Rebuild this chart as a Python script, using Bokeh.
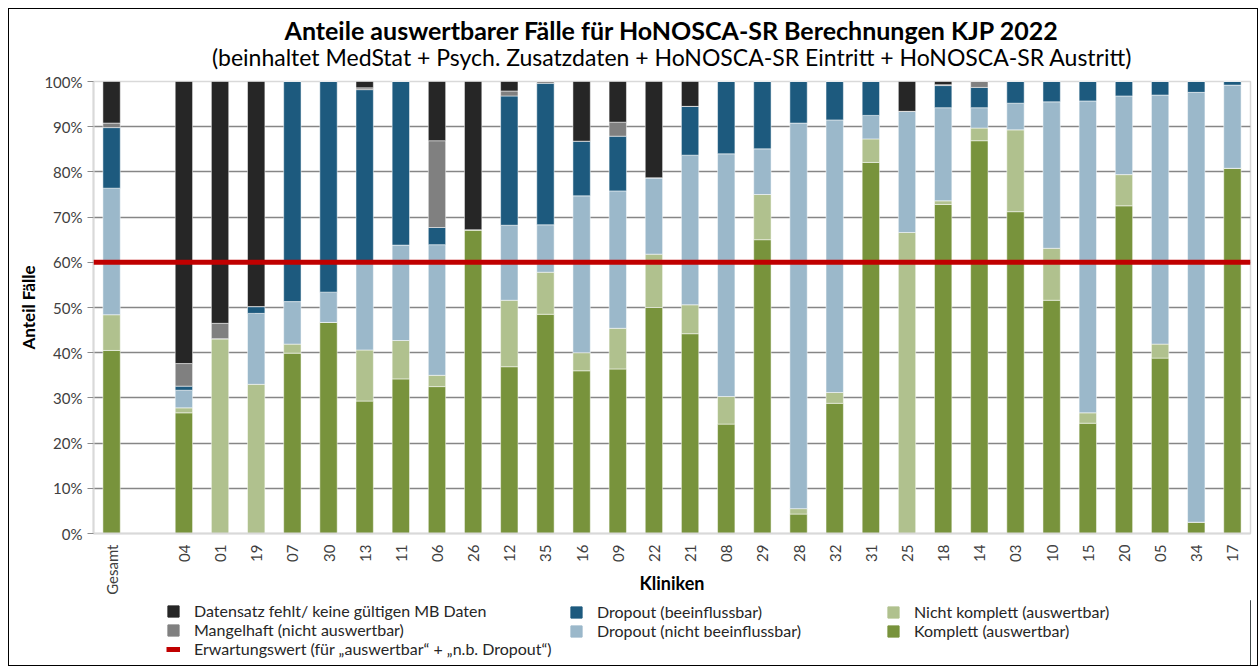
from bokeh.plotting import figure
from bokeh.layouts import column
from bokeh.models import (FactorRange, Range1d, Span, Title, Legend, LegendItem,
                          FixedTicker, PrintfTickFormatter, ColumnDataSource)
from bokeh.embed import file_html
from bokeh.resources import INLINE
import math

kliniken = ["Gesamt", "04", "01", "19", "07", "30", "13", "11", "06", "26", "12", "35",
            "16", "09", "22", "21", "08", "29", "28", "32", "31", "25", "18", "14", "03",
            "10", "15", "20", "05", "34", "17"]
achsen_kategorien = ["Gesamt", " "] + kliniken[1:]

komplett = [40.5, 26.7, 0, 0, 39.9, 46.7, 29.3, 34.2, 32.5, 67.2, 36.9, 48.5, 36.0, 36.4,
            50.0, 44.2, 24.2, 65.0, 4.3, 28.8, 82.1, 0, 72.8, 86.9, 71.2, 51.6, 24.4, 72.5,
            38.8, 2.5, 80.8]
nicht_komplett = [7.9, 1.1, 43.1, 33.0, 2.0, 0, 11.3, 8.5, 2.5, 0, 14.7, 9.3, 4.0, 9.0,
                  11.8, 6.4, 6.1, 10.0, 1.2, 2.4, 5.2, 66.6, 0.8, 2.8, 18.1, 11.5, 2.3, 6.9,
                  3.1, 0, 0]
dropout_nb = [28.0, 3.9, 0, 15.7, 9.4, 6.7, 19.4, 21.1, 28.9, 0, 16.6, 10.5, 34.7, 30.4,
              16.9, 33.1, 53.7, 10.1, 85.3, 60.3, 5.2, 26.8, 20.6, 4.5, 5.9, 32.4, 69.0,
              17.4, 55.1, 95.1, 18.4]
dropout_b = [13.4, 0.9, 0, 1.5, 48.7, 46.6, 38.2, 36.2, 3.8, 0, 28.6, 31.3, 12.1, 12.1, 0,
             10.8, 16.0, 14.9, 9.2, 8.5, 7.5, 0, 4.9, 4.5, 4.8, 4.5, 4.3, 3.2, 3.0, 2.4, 0.8]
mangelhaft = [1.0, 5.0, 3.4, 0, 0, 0, 0.4, 0, 19.2, 0, 1.1, 0.4, 0, 3.1, 0, 0, 0, 0, 0, 0, 0,
              0, 0.2, 1.3, 0, 0, 0, 0, 0, 0, 0]
fehlt = [9.2, 62.4, 53.5, 49.8, 0, 0, 1.4, 0, 13.1, 32.8, 2.1, 0, 13.2, 9.0, 21.3, 5.5, 0, 0,
         0, 0, 0, 6.6, 0.7, 0, 0, 0, 0, 0, 0, 0, 0]
erwartungswert = 60
y_ticks = list(range(0, 101, 10))

serien = ["komplett", "nicht_komplett", "dropout_nb", "dropout_b", "mangelhaft", "fehlt"]
farben = ["#78933C", "#B0C18E", "#9BB8CA", "#1D5A7E", "#808080", "#262626"]
labels = {
    "fehlt": "Datensatz fehlt/ keine gültigen MB Daten",
    "mangelhaft": "Mangelhaft (nicht auswertbar)",
    "dropout_b": "Dropout (beeinflussbar)",
    "dropout_nb": "Dropout (nicht beeinflussbar)",
    "nicht_komplett": "Nicht komplett (auswertbar)",
    "komplett": "Komplett (auswertbar)",
}
label_erwartung = "Erwartungswert (für „auswertbar“ + „n.b. Dropout“)"
farbe_erwartung = "#C00000"

source = ColumnDataSource(dict(kliniken=kliniken, komplett=komplett,
                               nicht_komplett=nicht_komplett, dropout_nb=dropout_nb,
                               dropout_b=dropout_b, mangelhaft=mangelhaft, fehlt=fehlt))

FONT = "Lato"
W = 1248

p = figure(x_range=FactorRange(factors=achsen_kategorien, range_padding=0.0),
           y_range=Range1d(0, 100),
           width=W, height=591, output_backend="svg", toolbar_location=None,
           min_border_left=84, min_border_right=7, min_border_top=72, min_border_bottom=67)

p.vbar_stack(serien, x="kliniken", width=0.48, color=farben, source=source,
             line_color="white", line_width=0.5)

span = Span(location=erwartungswert, dimension="width", line_color=farbe_erwartung,
            line_width=5)
p.add_layout(span)

# axes
p.yaxis.ticker = FixedTicker(ticks=y_ticks)
p.yaxis.formatter = PrintfTickFormatter(format="%d%%")
p.yaxis.axis_line_color = "#D9D9D9"
p.yaxis.axis_line_width = 2
p.yaxis.major_tick_line_color = "#8C8C8C"
p.yaxis.major_tick_out = 6
p.yaxis.major_tick_in = 0
p.yaxis.minor_tick_line_color = None
p.yaxis.major_label_standoff = 5
p.yaxis.major_label_text_font = FONT
p.yaxis.major_label_text_font_size = "15px"
p.yaxis.major_label_text_color = "#404040"
p.yaxis.axis_label = "Anteil Fälle"
p.yaxis.axis_label_text_font = FONT
p.yaxis.axis_label_text_font_style = "bold"
p.yaxis.axis_label_text_font_size = "17px"
p.yaxis.axis_label_text_color = "black"
p.yaxis.axis_label_standoff = 2

p.xaxis.major_label_orientation = math.pi / 2
p.xaxis.axis_line_color = "#D9D9D9"
p.xaxis.axis_line_width = 2
p.xaxis.major_tick_line_color = None
p.xaxis.minor_tick_line_color = None
p.xaxis.major_label_text_font = FONT
p.xaxis.major_label_text_font_size = "15px"
p.xaxis.major_label_text_color = "#404040"
p.xaxis.axis_label = "Kliniken"
p.xaxis.axis_label_text_font = FONT
p.xaxis.axis_label_text_font_style = "bold"
p.xaxis.axis_label_text_font_size = "18px"
p.xaxis.axis_label_text_color = "black"
p.xaxis.axis_label_standoff = -26

p.xgrid.grid_line_color = None
p.ygrid.grid_line_color = "#868686"
p.ygrid.grid_line_width = 1.5
p.outline_line_color = "#D9D9D9"
p.outline_line_width = 1.5

# titles: subtitle first (closest to plot), then main title
p.title = None
sub = Title(text="(beinhaltet MedStat + Psych. Zusatzdaten + HoNOSCA-SR Eintritt + HoNOSCA-SR Austritt)",
            align="center", text_font=FONT, text_font_size="23px", text_font_style="normal",
            text_color="black", standoff=22)
main = Title(text="Anteile auswertbarer Fälle für HoNOSCA-SR Berechnungen KJP 2022",
             align="center", text_font=FONT, text_font_size="25px", text_font_style="bold",
             text_color="black", standoff=-30)
p.add_layout(sub, "above")
p.add_layout(main, "above")

# legend panel (separate canvas below the chart)
lg = figure(width=W, height=65, output_backend="svg", toolbar_location=None,
            x_range=Range1d(0, 1), y_range=Range1d(0, 1), x_axis_type=None, y_axis_type=None,
            min_border=0, outline_line_color=None)
lg.grid.visible = False
aus = [2]  # outside the visible range: only the legend glyphs are seen
leg_r = {s: lg.vbar(x=aus, top=aus, width=0.1, color=c) for s, c in zip(serien, farben)}
leg_line = lg.line(x=aus + aus, y=aus + aus, line_color=farbe_erwartung, line_width=5)

def make_legend(eintraege, loc):
    return Legend(items=[LegendItem(label=t, renderers=[r]) for t, r in eintraege],
                  location=loc, orientation="vertical",
                  label_text_font=FONT, label_text_font_size="16px",
                  label_text_color="#262626", glyph_width=14, glyph_height=14,
                  label_height=16, spacing=-4, padding=0, margin=0,
                  border_line_color=None, background_fill_alpha=0, label_standoff=14)

lg.add_layout(make_legend([(labels["fehlt"], leg_r["fehlt"]),
                           (labels["mangelhaft"], leg_r["mangelhaft"]),
                           (label_erwartung, leg_line)], (73, 7)))
lg.add_layout(make_legend([(labels["dropout_b"], leg_r["dropout_b"]),
                           (labels["dropout_nb"], leg_r["dropout_nb"])], (476, 25)))
lg.add_layout(make_legend([(labels["nicht_komplett"], leg_r["nicht_komplett"]),
                           (labels["komplett"], leg_r["komplett"])], (793, 25)))

layout = column(p, lg, spacing=0,
                styles={"border": "1px solid black", "margin-left": "8px", "margin-top": "8px"})

open("out.html", "w").write(file_html(layout, INLINE))
